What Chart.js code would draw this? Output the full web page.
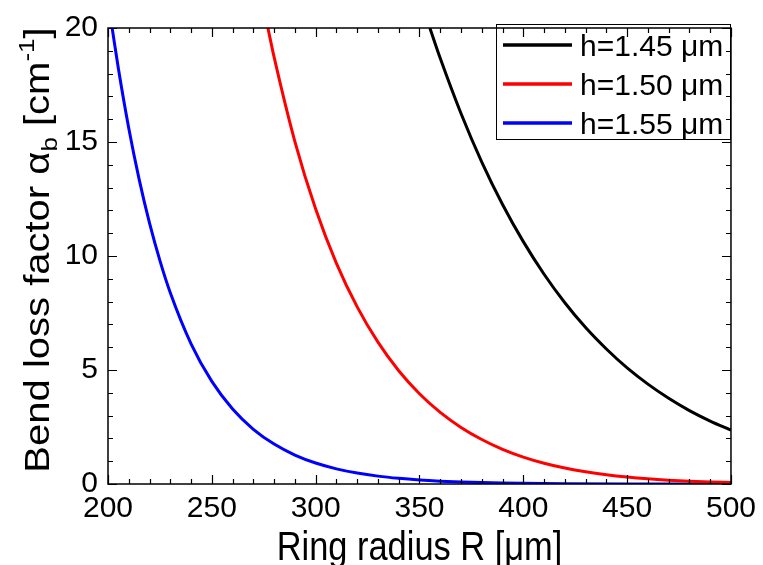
<!DOCTYPE html>
<html>
<head>
<meta charset="utf-8">
<script src="https://cdn.jsdelivr.net/npm/chart.js@4.4.1/dist/chart.umd.min.js"></script>
<style>
  html, body { margin: 0; padding: 0; background: #fff; }
</style>
</head>
<body>
<canvas id="bend-loss" width="763" height="565"></canvas>
<script>
// bend loss vs ring radius, three waveguide heights
const labels = ['h=1.45 \u03bcm', 'h=1.50 \u03bcm', 'h=1.55 \u03bcm'];
const colors = ['#000000', '#ff0000', '#0000ff'];

const rBlack = [355, 360, 370, 380, 390, 400, 410, 420, 430, 440, 450, 460, 470, 480, 490, 500];
const aBlack = [20, 18.67, 16.25, 14.12, 12.26, 10.63, 9.20, 7.95, 6.86, 5.92, 5.09, 4.38, 3.76, 3.22, 2.76, 2.36];

const rRed = [277, 280, 290, 300, 310, 320, 330, 340, 350, 360, 370, 380, 390, 400, 410, 420, 430, 440, 450, 460, 470, 480, 490, 500];
const aRed = [20, 18.72, 15.02, 12.06, 9.68, 7.77, 6.22, 4.97, 3.96, 3.14, 2.48, 1.95, 1.52, 1.18, 0.91, 0.70, 0.534, 0.405, 0.305, 0.228, 0.169, 0.124, 0.091, 0.066];

const rBlue = [202, 205, 210, 215, 220, 225, 230, 240, 250, 260, 270, 280, 290, 300, 310, 320, 330, 340, 350, 360, 370, 380, 390, 400, 420, 450, 500];
const aBlue = [20, 18.22, 15.6, 13.36, 11.44, 9.8, 8.39, 6.15, 4.5, 3.29, 2.4, 1.75, 1.27, 0.92, 0.665, 0.48, 0.345, 0.248, 0.177, 0.126, 0.089, 0.063, 0.044, 0.031, 0.015, 0.005, 0.001];

const xTicks = [200, 250, 300, 350, 400, 450, 500];
const yTicks = [0, 5, 10, 15, 20];

const FONT = "'Liberation Sans', Arial, sans-serif";

const pts = (xs, ys) => xs.map((x, i) => ({ x: x, y: ys[i] }));

// frame, inward ticks, axis titles and the boxed legend
const frame = {
  id: 'frame',
  afterDraw(chart) {
    const { ctx, chartArea: a, scales } = chart;
    const sx = scales.x, sy = scales.y;
    ctx.save();
    ctx.strokeStyle = '#000';
    ctx.lineWidth = 1.5;
    ctx.strokeRect(a.left, a.top, a.right - a.left, a.bottom - a.top);

    ctx.lineWidth = 1.2;
    ctx.beginPath();
    for (let v = 200; v <= 500; v += 10) {
      const px = Math.round(sx.getPixelForValue(v)) + 0.5;
      const len = xTicks.includes(v) ? 9 : 5;
      ctx.moveTo(px, a.bottom); ctx.lineTo(px, a.bottom - len);
      ctx.moveTo(px, a.top); ctx.lineTo(px, a.top + len);
    }
    for (let v = 0; v <= 20; v += 1) {
      const py = Math.round(sy.getPixelForValue(v)) + 0.5;
      const len = yTicks.includes(v) ? 9 : 5;
      ctx.moveTo(a.left, py); ctx.lineTo(a.left + len, py);
      ctx.moveTo(a.right, py); ctx.lineTo(a.right - len, py);
    }
    ctx.stroke();

    // x title
    ctx.fillStyle = '#000';
    ctx.save();
    ctx.translate((a.left + a.right) / 2, 560);
    ctx.scale(0.86, 1);
    ctx.font = '40px ' + FONT;
    ctx.textAlign = 'center';
    ctx.textBaseline = 'alphabetic';
    ctx.fillText('Ring radius R [\u03bcm]', 0, 0);
    ctx.restore();

    // y title with subscript / superscript
    ctx.save();
    ctx.translate(49, 250);
    ctx.rotate(-Math.PI / 2);
    ctx.scale(1, 0.86);
    const big = '40px ' + FONT, small = '26px ' + FONT;
    const parts = [
      { t: 'Bend loss factor \u03b1', f: big, dy: 0 },
      { t: 'b', f: small, dy: 9 },
      { t: ' [cm', f: big, dy: 0 },
      { t: '-1', f: small, dy: -17 },
      { t: ']', f: big, dy: 0 }
    ];
    let total = 0;
    parts.forEach(p => { ctx.font = p.f; p.w = ctx.measureText(p.t).width; total += p.w; });
    let cx = -total / 2;
    ctx.textBaseline = 'alphabetic';
    ctx.textAlign = 'left';
    parts.forEach(p => { ctx.font = p.f; ctx.fillText(p.t, cx, p.dy); cx += p.w; });
    ctx.restore();

    // legend
    ctx.lineWidth = 1;
    ctx.strokeStyle = '#000';
    ctx.strokeRect(496.5, 24.5, 234, 115);
    ctx.font = '30px ' + FONT;
    ctx.textAlign = 'left';
    ctx.textBaseline = 'alphabetic';
    chart.data.datasets.forEach((ds, i) => {
      const y = 45 + i * 39;
      ctx.strokeStyle = ds.borderColor;
      ctx.lineWidth = 3.5;
      ctx.beginPath();
      ctx.moveTo(503, y); ctx.lineTo(572, y);
      ctx.stroke();
      ctx.fillText(ds.label, 580, y + 11);
    });
    ctx.restore();
  }
};

new Chart(document.getElementById('bend-loss'), {
  type: 'line',
  data: {
    datasets: [
      { label: labels[0], data: pts(rBlack, aBlack), borderColor: colors[0] },
      { label: labels[1], data: pts(rRed, aRed), borderColor: colors[1] },
      { label: labels[2], data: pts(rBlue, aBlue), borderColor: colors[2] }
    ]
  },
  options: {
    responsive: false,
    animation: false,
    devicePixelRatio: 1,
    layout: { padding: { left: 0, right: 28, top: 21, bottom: 0 } },
    elements: {
      line: { borderWidth: 3, cubicInterpolationMode: 'monotone', fill: false },
      point: { radius: 0 }
    },
    plugins: {
      legend: { display: false },
      tooltip: { enabled: false }
    },
    scales: {
      x: {
        type: 'linear',
        min: 200,
        max: 500,
        afterBuildTicks: s => { s.ticks = xTicks.map(v => ({ value: v })); },
        afterFit: s => { s.height = 81; },
        ticks: { color: '#000', padding: 7, font: { family: FONT, size: 30 } },
        grid: { display: false, drawTicks: false },
        border: { display: false }
      },
      y: {
        min: 0,
        max: 20,
        afterBuildTicks: s => { s.ticks = yTicks.map(v => ({ value: v })); },
        afterFit: s => { s.width = 108; },
        ticks: { color: '#000', padding: 10, font: { family: FONT, size: 30 } },
        grid: { display: false, drawTicks: false },
        border: { display: false }
      }
    }
  },
  plugins: [frame]
});
</script>
</body>
</html>
